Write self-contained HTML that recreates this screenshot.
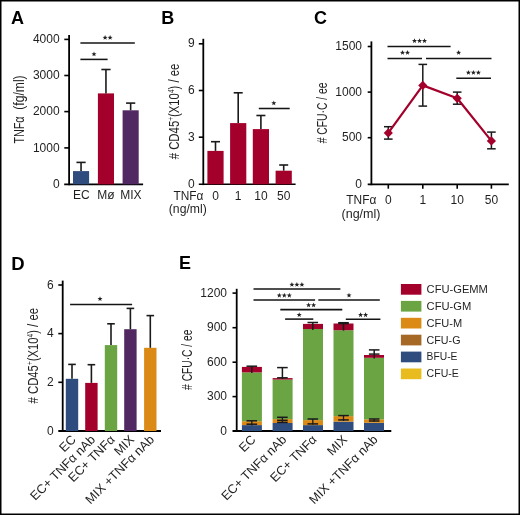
<!DOCTYPE html>
<html><head><meta charset="utf-8"><style>
html,body{margin:0;padding:0;background:#fff;}
svg{display:block;will-change:transform;}
text{font-family:"Liberation Sans",sans-serif;}
</style></head><body>
<svg width="520" height="515" viewBox="0 0 520 515">
<rect x="0" y="0" width="520" height="515" fill="#fff"/>
<text x="17.6" y="23.7" font-size="18" text-anchor="middle" fill="#000" font-weight="bold" >A</text>
<line x1="69.1" y1="35" x2="69.1" y2="185.15" stroke="#000" stroke-width="1.8" stroke-linecap="butt"/>
<line x1="64.2" y1="184.35" x2="143.1" y2="184.35" stroke="#000" stroke-width="1.6" stroke-linecap="butt"/>
<line x1="64.3" y1="39.4" x2="69.1" y2="39.4" stroke="#000" stroke-width="1.6" stroke-linecap="butt"/>
<line x1="64.3" y1="75.5" x2="69.1" y2="75.5" stroke="#000" stroke-width="1.6" stroke-linecap="butt"/>
<line x1="64.3" y1="111.6" x2="69.1" y2="111.6" stroke="#000" stroke-width="1.6" stroke-linecap="butt"/>
<line x1="64.3" y1="147.9" x2="69.1" y2="147.9" stroke="#000" stroke-width="1.6" stroke-linecap="butt"/>
<text x="59.6" y="43.0" font-size="12" text-anchor="end" fill="#1f1f1f" font-weight="normal" >4000</text>
<text x="59.6" y="79.1" font-size="12" text-anchor="end" fill="#1f1f1f" font-weight="normal" >3000</text>
<text x="59.6" y="115.2" font-size="12" text-anchor="end" fill="#1f1f1f" font-weight="normal" >2000</text>
<text x="59.6" y="151.5" font-size="12" text-anchor="end" fill="#1f1f1f" font-weight="normal" >1000</text>
<text x="59.6" y="187.6" font-size="12" text-anchor="end" fill="#1f1f1f" font-weight="normal" >0</text>
<rect x="73" y="171.1" width="16.1" height="13.25" fill="#2E4C7E"/>
<line x1="81.05" y1="171.1" x2="81.05" y2="162.4" stroke="#1a1a1a" stroke-width="1.6" stroke-linecap="butt"/>
<line x1="76.45" y1="162.4" x2="85.65" y2="162.4" stroke="#1a1a1a" stroke-width="1.6" stroke-linecap="butt"/>
<rect x="97.9" y="93.4" width="16.1" height="90.95" fill="#A3002B"/>
<line x1="105.95" y1="93.4" x2="105.95" y2="69.5" stroke="#1a1a1a" stroke-width="1.6" stroke-linecap="butt"/>
<line x1="101.35" y1="69.5" x2="110.55" y2="69.5" stroke="#1a1a1a" stroke-width="1.6" stroke-linecap="butt"/>
<rect x="122.6" y="110.3" width="16.1" height="74.05" fill="#512862"/>
<line x1="130.65" y1="110.3" x2="130.65" y2="103.1" stroke="#1a1a1a" stroke-width="1.6" stroke-linecap="butt"/>
<line x1="126.05" y1="103.1" x2="135.25" y2="103.1" stroke="#1a1a1a" stroke-width="1.6" stroke-linecap="butt"/>
<line x1="80.4" y1="42.9" x2="134.8" y2="42.9" stroke="#141414" stroke-width="1.55" stroke-linecap="butt"/>
<polygon points="105.10,35.05 105.76,36.79 107.62,36.88 106.17,38.05 106.66,39.84 105.10,38.82 103.54,39.84 104.03,38.05 102.58,36.88 104.44,36.79" fill="#222"/>
<polygon points="110.10,35.05 110.76,36.79 112.62,36.88 111.17,38.05 111.66,39.84 110.10,38.82 108.54,39.84 109.03,38.05 107.58,36.88 109.44,36.79" fill="#222"/>
<line x1="80.4" y1="59.4" x2="107.6" y2="59.4" stroke="#141414" stroke-width="1.55" stroke-linecap="butt"/>
<polygon points="94.00,51.55 94.66,53.29 96.52,53.38 95.07,54.55 95.56,56.34 94.00,55.32 92.44,56.34 92.93,54.55 91.48,53.38 93.34,53.29" fill="#222"/>
<text x="81.4" y="199.2" font-size="12" text-anchor="middle" fill="#1f1f1f" font-weight="normal" >EC</text>
<text x="106" y="199.2" font-size="12" text-anchor="middle" fill="#1f1f1f" font-weight="normal" >Mø</text>
<text x="130.9" y="199.2" font-size="12" text-anchor="middle" fill="#1f1f1f" font-weight="normal" >MIX</text>
<text transform="translate(23.9,143.6) rotate(-90)" x="0" y="0" font-size="15" text-anchor="start" fill="#1f1f1f" textLength="27.2" lengthAdjust="spacingAndGlyphs">TNFα</text>
<text transform="translate(23.9,109.7) rotate(-90)" x="0" y="0" font-size="15" text-anchor="start" fill="#1f1f1f" textLength="34.3" lengthAdjust="spacingAndGlyphs">(fg/ml)</text>
<text x="167.7" y="23.7" font-size="18" text-anchor="middle" fill="#000" font-weight="bold" >B</text>
<line x1="203.3" y1="38.8" x2="203.3" y2="185.1" stroke="#000" stroke-width="1.8" stroke-linecap="butt"/>
<line x1="198.8" y1="184.3" x2="295.6" y2="184.3" stroke="#000" stroke-width="1.6" stroke-linecap="butt"/>
<line x1="198.8" y1="43.8" x2="203.3" y2="43.8" stroke="#000" stroke-width="1.6" stroke-linecap="butt"/>
<line x1="198.8" y1="90.5" x2="203.3" y2="90.5" stroke="#000" stroke-width="1.6" stroke-linecap="butt"/>
<line x1="198.8" y1="137.2" x2="203.3" y2="137.2" stroke="#000" stroke-width="1.6" stroke-linecap="butt"/>
<text x="194.6" y="47.4" font-size="12" text-anchor="end" fill="#1f1f1f" font-weight="normal" >9</text>
<text x="194.6" y="94.1" font-size="12" text-anchor="end" fill="#1f1f1f" font-weight="normal" >6</text>
<text x="194.6" y="140.8" font-size="12" text-anchor="end" fill="#1f1f1f" font-weight="normal" >3</text>
<text x="194.6" y="187.6" font-size="12" text-anchor="end" fill="#1f1f1f" font-weight="normal" >0</text>
<rect x="207.4" y="150.9" width="16.2" height="33.4" fill="#A3002B"/>
<line x1="215.5" y1="150.9" x2="215.5" y2="141.7" stroke="#1a1a1a" stroke-width="1.6" stroke-linecap="butt"/>
<line x1="211.0" y1="141.7" x2="220.0" y2="141.7" stroke="#1a1a1a" stroke-width="1.6" stroke-linecap="butt"/>
<rect x="230.1" y="123.1" width="16.2" height="61.2" fill="#A3002B"/>
<line x1="238.2" y1="123.1" x2="238.2" y2="92.8" stroke="#1a1a1a" stroke-width="1.6" stroke-linecap="butt"/>
<line x1="233.7" y1="92.8" x2="242.7" y2="92.8" stroke="#1a1a1a" stroke-width="1.6" stroke-linecap="butt"/>
<rect x="252.8" y="129.1" width="16.2" height="55.2" fill="#A3002B"/>
<line x1="260.9" y1="129.1" x2="260.9" y2="115.5" stroke="#1a1a1a" stroke-width="1.6" stroke-linecap="butt"/>
<line x1="256.4" y1="115.5" x2="265.4" y2="115.5" stroke="#1a1a1a" stroke-width="1.6" stroke-linecap="butt"/>
<rect x="275.6" y="170.7" width="16.2" height="13.6" fill="#A3002B"/>
<line x1="283.7" y1="170.7" x2="283.7" y2="165" stroke="#1a1a1a" stroke-width="1.6" stroke-linecap="butt"/>
<line x1="279.2" y1="165" x2="288.2" y2="165" stroke="#1a1a1a" stroke-width="1.6" stroke-linecap="butt"/>
<line x1="258.8" y1="108.5" x2="289.7" y2="108.5" stroke="#141414" stroke-width="1.55" stroke-linecap="butt"/>
<polygon points="273.80,100.45 274.46,102.19 276.32,102.28 274.87,103.45 275.36,105.24 273.80,104.22 272.24,105.24 272.73,103.45 271.28,102.28 273.14,102.19" fill="#222"/>
<text x="173.5" y="199.7" font-size="12" text-anchor="start" fill="#1f1f1f" font-weight="normal" textLength="30" lengthAdjust="spacingAndGlyphs" >TNFα</text>
<text x="215.5" y="199.7" font-size="12" text-anchor="middle" fill="#1f1f1f" font-weight="normal" >0</text>
<text x="238.2" y="199.7" font-size="12" text-anchor="middle" fill="#1f1f1f" font-weight="normal" >1</text>
<text x="260.9" y="199.7" font-size="12" text-anchor="middle" fill="#1f1f1f" font-weight="normal" >10</text>
<text x="283.7" y="199.7" font-size="12" text-anchor="middle" fill="#1f1f1f" font-weight="normal" >50</text>
<text x="168.8" y="213.2" font-size="12" text-anchor="start" fill="#1f1f1f" font-weight="normal" textLength="38" lengthAdjust="spacingAndGlyphs" >(ng/ml)</text>
<text transform="translate(179.1,111.45) rotate(-90)" x="0" y="0" font-size="15" text-anchor="middle" fill="#1f1f1f" textLength="95.7" lengthAdjust="spacingAndGlyphs"># CD45<tspan font-size="8.5" dy="-5.2">+</tspan><tspan dy="5.2">(X10</tspan><tspan font-size="8.5" dy="-5.2">4</tspan><tspan dy="5.2">) / ee</tspan></text>
<text x="320.4" y="24.3" font-size="18" text-anchor="middle" fill="#000" font-weight="bold" >C</text>
<line x1="371.4" y1="41.4" x2="371.4" y2="185.2" stroke="#000" stroke-width="1.8" stroke-linecap="butt"/>
<line x1="367.7" y1="184.4" x2="508.8" y2="184.4" stroke="#000" stroke-width="1.6" stroke-linecap="butt"/>
<line x1="367.7" y1="46.5" x2="371.4" y2="46.5" stroke="#000" stroke-width="1.6" stroke-linecap="butt"/>
<line x1="367.7" y1="92.1" x2="371.4" y2="92.1" stroke="#000" stroke-width="1.6" stroke-linecap="butt"/>
<line x1="367.7" y1="137.7" x2="371.4" y2="137.7" stroke="#000" stroke-width="1.6" stroke-linecap="butt"/>
<text x="362" y="50.1" font-size="12" text-anchor="end" fill="#1f1f1f" font-weight="normal" >1500</text>
<text x="362" y="95.7" font-size="12" text-anchor="end" fill="#1f1f1f" font-weight="normal" >1000</text>
<text x="362" y="141.3" font-size="12" text-anchor="end" fill="#1f1f1f" font-weight="normal" >500</text>
<text x="362" y="187.6" font-size="12" text-anchor="end" fill="#1f1f1f" font-weight="normal" >0</text>
<line x1="388.3" y1="184.4" x2="388.3" y2="188.7" stroke="#000" stroke-width="1.6" stroke-linecap="butt"/>
<line x1="422.8" y1="184.4" x2="422.8" y2="188.7" stroke="#000" stroke-width="1.6" stroke-linecap="butt"/>
<line x1="457.2" y1="184.4" x2="457.2" y2="188.7" stroke="#000" stroke-width="1.6" stroke-linecap="butt"/>
<line x1="491.4" y1="184.4" x2="491.4" y2="188.7" stroke="#000" stroke-width="1.6" stroke-linecap="butt"/>
<line x1="388.3" y1="126.7" x2="388.3" y2="139.1" stroke="#1a1a1a" stroke-width="1.5" stroke-linecap="butt"/>
<line x1="384.0" y1="126.7" x2="392.6" y2="126.7" stroke="#1a1a1a" stroke-width="1.5" stroke-linecap="butt"/>
<line x1="384.0" y1="139.1" x2="392.6" y2="139.1" stroke="#1a1a1a" stroke-width="1.5" stroke-linecap="butt"/>
<line x1="422.8" y1="64.4" x2="422.8" y2="106.1" stroke="#1a1a1a" stroke-width="1.5" stroke-linecap="butt"/>
<line x1="418.5" y1="64.4" x2="427.1" y2="64.4" stroke="#1a1a1a" stroke-width="1.5" stroke-linecap="butt"/>
<line x1="418.5" y1="106.1" x2="427.1" y2="106.1" stroke="#1a1a1a" stroke-width="1.5" stroke-linecap="butt"/>
<line x1="457.2" y1="92.1" x2="457.2" y2="104.2" stroke="#1a1a1a" stroke-width="1.5" stroke-linecap="butt"/>
<line x1="452.9" y1="92.1" x2="461.5" y2="92.1" stroke="#1a1a1a" stroke-width="1.5" stroke-linecap="butt"/>
<line x1="452.9" y1="104.2" x2="461.5" y2="104.2" stroke="#1a1a1a" stroke-width="1.5" stroke-linecap="butt"/>
<line x1="491.4" y1="132.1" x2="491.4" y2="148.8" stroke="#1a1a1a" stroke-width="1.5" stroke-linecap="butt"/>
<line x1="487.1" y1="132.1" x2="495.7" y2="132.1" stroke="#1a1a1a" stroke-width="1.5" stroke-linecap="butt"/>
<line x1="487.1" y1="148.8" x2="495.7" y2="148.8" stroke="#1a1a1a" stroke-width="1.5" stroke-linecap="butt"/>
<polyline points="388.3,132.9 422.8,85.4 457.2,98.3 491.4,140.9" fill="none" stroke="#A3002B" stroke-width="2.2" stroke-linejoin="round"/>
<polygon points="388.3,128.3 392.9,132.9 388.3,137.5 383.7,132.9" fill="#A3002B"/>
<polygon points="422.8,80.8 427.4,85.4 422.8,90.0 418.2,85.4" fill="#A3002B"/>
<polygon points="457.2,93.7 461.8,98.3 457.2,102.9 452.6,98.3" fill="#A3002B"/>
<polygon points="491.4,136.3 496.0,140.9 491.4,145.5 486.8,140.9" fill="#A3002B"/>
<line x1="387.5" y1="46.5" x2="450.6" y2="46.5" stroke="#141414" stroke-width="1.55" stroke-linecap="butt"/>
<polygon points="414.50,38.25 415.16,39.99 417.02,40.08 415.57,41.25 416.06,43.04 414.50,42.02 412.94,43.04 413.43,41.25 411.98,40.08 413.84,39.99" fill="#222"/>
<polygon points="419.50,38.25 420.16,39.99 422.02,40.08 420.57,41.25 421.06,43.04 419.50,42.02 417.94,43.04 418.43,41.25 416.98,40.08 418.84,39.99" fill="#222"/>
<polygon points="424.50,38.25 425.16,39.99 427.02,40.08 425.57,41.25 426.06,43.04 424.50,42.02 422.94,43.04 423.43,41.25 421.98,40.08 423.84,39.99" fill="#222"/>
<line x1="387.5" y1="58.5" x2="422" y2="58.5" stroke="#141414" stroke-width="1.55" stroke-linecap="butt"/>
<polygon points="402.50,50.05 403.16,51.79 405.02,51.88 403.57,53.05 404.06,54.84 402.50,53.82 400.94,54.84 401.43,53.05 399.98,51.88 401.84,51.79" fill="#222"/>
<polygon points="407.50,50.05 408.16,51.79 410.02,51.88 408.57,53.05 409.06,54.84 407.50,53.82 405.94,54.84 406.43,53.05 404.98,51.88 406.84,51.79" fill="#222"/>
<line x1="426" y1="58.5" x2="491.5" y2="58.5" stroke="#141414" stroke-width="1.55" stroke-linecap="butt"/>
<polygon points="458.60,50.05 459.26,51.79 461.12,51.88 459.67,53.05 460.16,54.84 458.60,53.82 457.04,54.84 457.53,53.05 456.08,51.88 457.94,51.79" fill="#222"/>
<line x1="456.3" y1="78.3" x2="491" y2="78.3" stroke="#141414" stroke-width="1.55" stroke-linecap="butt"/>
<polygon points="468.40,69.95 469.06,71.69 470.92,71.78 469.47,72.95 469.96,74.74 468.40,73.72 466.84,74.74 467.33,72.95 465.88,71.78 467.74,71.69" fill="#222"/>
<polygon points="473.40,69.95 474.06,71.69 475.92,71.78 474.47,72.95 474.96,74.74 473.40,73.72 471.84,74.74 472.33,72.95 470.88,71.78 472.74,71.69" fill="#222"/>
<polygon points="478.40,69.95 479.06,71.69 480.92,71.78 479.47,72.95 479.96,74.74 478.40,73.72 476.84,74.74 477.33,72.95 475.88,71.78 477.74,71.69" fill="#222"/>
<text x="346.3" y="204.2" font-size="12" text-anchor="start" fill="#1f1f1f" font-weight="normal" textLength="30" lengthAdjust="spacingAndGlyphs" >TNFα</text>
<text x="388.3" y="204.2" font-size="12" text-anchor="middle" fill="#1f1f1f" font-weight="normal" >0</text>
<text x="422.8" y="204.2" font-size="12" text-anchor="middle" fill="#1f1f1f" font-weight="normal" >1</text>
<text x="457.2" y="204.2" font-size="12" text-anchor="middle" fill="#1f1f1f" font-weight="normal" >10</text>
<text x="491.4" y="204.2" font-size="12" text-anchor="middle" fill="#1f1f1f" font-weight="normal" >50</text>
<text x="341.5" y="218.3" font-size="12" text-anchor="start" fill="#1f1f1f" font-weight="normal" textLength="39" lengthAdjust="spacingAndGlyphs" >(ng/ml)</text>
<text transform="translate(326.8,112.9) rotate(-90)" x="0" y="0" font-size="15" text-anchor="middle" fill="#1f1f1f" textLength="60.8" lengthAdjust="spacingAndGlyphs"># CFU&#183;C / ee</text>
<text x="18" y="269.8" font-size="18.5" text-anchor="middle" fill="#000" font-weight="bold" >D</text>
<line x1="62.7" y1="280.6" x2="62.7" y2="431.8" stroke="#000" stroke-width="1.8" stroke-linecap="butt"/>
<line x1="58.3" y1="431" x2="161" y2="431" stroke="#000" stroke-width="1.9" stroke-linecap="butt"/>
<line x1="58.3" y1="285.0" x2="62.7" y2="285.0" stroke="#000" stroke-width="1.6" stroke-linecap="butt"/>
<line x1="58.3" y1="333.6" x2="62.7" y2="333.6" stroke="#000" stroke-width="1.6" stroke-linecap="butt"/>
<line x1="58.3" y1="382.3" x2="62.7" y2="382.3" stroke="#000" stroke-width="1.6" stroke-linecap="butt"/>
<text x="53.6" y="288.6" font-size="12" text-anchor="end" fill="#1f1f1f" font-weight="normal" >6</text>
<text x="53.6" y="337.2" font-size="12" text-anchor="end" fill="#1f1f1f" font-weight="normal" >4</text>
<text x="53.6" y="385.9" font-size="12" text-anchor="end" fill="#1f1f1f" font-weight="normal" >2</text>
<text x="53.6" y="434.6" font-size="12" text-anchor="end" fill="#1f1f1f" font-weight="normal" >0</text>
<rect x="65.8" y="378.8" width="12.4" height="52.2" fill="#2E4C7E"/>
<line x1="72.0" y1="378.8" x2="72.0" y2="364.4" stroke="#1a1a1a" stroke-width="1.6" stroke-linecap="butt"/>
<line x1="68.2" y1="364.4" x2="75.8" y2="364.4" stroke="#1a1a1a" stroke-width="1.6" stroke-linecap="butt"/>
<rect x="85.2" y="382.9" width="12.4" height="48.1" fill="#A3002B"/>
<line x1="91.4" y1="382.9" x2="91.4" y2="364.7" stroke="#1a1a1a" stroke-width="1.6" stroke-linecap="butt"/>
<line x1="87.6" y1="364.7" x2="95.2" y2="364.7" stroke="#1a1a1a" stroke-width="1.6" stroke-linecap="butt"/>
<rect x="104.8" y="345.1" width="12.4" height="85.9" fill="#6AA443"/>
<line x1="111.0" y1="345.1" x2="111.0" y2="323.8" stroke="#1a1a1a" stroke-width="1.6" stroke-linecap="butt"/>
<line x1="107.2" y1="323.8" x2="114.8" y2="323.8" stroke="#1a1a1a" stroke-width="1.6" stroke-linecap="butt"/>
<rect x="124.2" y="329.2" width="12.4" height="101.8" fill="#512862"/>
<line x1="130.4" y1="329.2" x2="130.4" y2="308.4" stroke="#1a1a1a" stroke-width="1.6" stroke-linecap="butt"/>
<line x1="126.6" y1="308.4" x2="134.2" y2="308.4" stroke="#1a1a1a" stroke-width="1.6" stroke-linecap="butt"/>
<rect x="144.1" y="347.8" width="12.4" height="83.2" fill="#DB8A16"/>
<line x1="150.3" y1="347.8" x2="150.3" y2="315.6" stroke="#1a1a1a" stroke-width="1.6" stroke-linecap="butt"/>
<line x1="146.5" y1="315.6" x2="154.1" y2="315.6" stroke="#1a1a1a" stroke-width="1.6" stroke-linecap="butt"/>
<line x1="70.1" y1="304.4" x2="132.1" y2="304.4" stroke="#141414" stroke-width="1.55" stroke-linecap="butt"/>
<polygon points="100.00,296.25 100.66,297.99 102.52,298.08 101.07,299.25 101.56,301.04 100.00,300.02 98.44,301.04 98.93,299.25 97.48,298.08 99.34,297.99" fill="#222"/>
<text transform="translate(76.6,440.4) rotate(-45)" x="0" y="0" font-size="12.6" text-anchor="end" fill="#1f1f1f">EC</text>
<text transform="translate(96.0,440.4) rotate(-45)" x="0" y="0" font-size="12.6" text-anchor="end" fill="#1f1f1f">EC+ TNFα nAb</text>
<text transform="translate(115.6,440.4) rotate(-45)" x="0" y="0" font-size="12.6" text-anchor="end" fill="#1f1f1f">EC+ TNFα</text>
<text transform="translate(135.0,440.4) rotate(-45)" x="0" y="0" font-size="12.6" text-anchor="end" fill="#1f1f1f">MIX</text>
<text transform="translate(154.9,440.4) rotate(-45)" x="0" y="0" font-size="12.6" text-anchor="end" fill="#1f1f1f">MIX +TNFα nAb</text>
<text transform="translate(38.4,355.75) rotate(-90)" x="0" y="0" font-size="15" text-anchor="middle" fill="#1f1f1f" textLength="95.5" lengthAdjust="spacingAndGlyphs"># CD45<tspan font-size="8.5" dy="-5.2">+</tspan><tspan dy="5.2">(X10</tspan><tspan font-size="8.5" dy="-5.2">4</tspan><tspan dy="5.2">) / ee</tspan></text>
<text x="185" y="269" font-size="18" text-anchor="middle" fill="#000" font-weight="bold" >E</text>
<line x1="236.7" y1="288.8" x2="236.7" y2="431.8" stroke="#000" stroke-width="1.8" stroke-linecap="butt"/>
<line x1="232.5" y1="431" x2="391.3" y2="431" stroke="#000" stroke-width="1.9" stroke-linecap="butt"/>
<line x1="232.5" y1="293.1" x2="236.7" y2="293.1" stroke="#000" stroke-width="1.6" stroke-linecap="butt"/>
<line x1="232.5" y1="327.7" x2="236.7" y2="327.7" stroke="#000" stroke-width="1.6" stroke-linecap="butt"/>
<line x1="232.5" y1="362.2" x2="236.7" y2="362.2" stroke="#000" stroke-width="1.6" stroke-linecap="butt"/>
<line x1="232.5" y1="396.6" x2="236.7" y2="396.6" stroke="#000" stroke-width="1.6" stroke-linecap="butt"/>
<text x="227" y="296.7" font-size="12" text-anchor="end" fill="#1f1f1f" font-weight="normal" >1200</text>
<text x="227" y="331.3" font-size="12" text-anchor="end" fill="#1f1f1f" font-weight="normal" >900</text>
<text x="227" y="365.8" font-size="12" text-anchor="end" fill="#1f1f1f" font-weight="normal" >600</text>
<text x="227" y="400.2" font-size="12" text-anchor="end" fill="#1f1f1f" font-weight="normal" >300</text>
<text x="227" y="434.6" font-size="12" text-anchor="end" fill="#1f1f1f" font-weight="normal" >0</text>
<rect x="241.9" y="425.1" width="20" height="5.9" fill="#2E4C7E"/>
<rect x="241.9" y="421.2" width="20" height="3.9" fill="#DB8A16"/>
<rect x="241.9" y="372.4" width="20" height="48.8" fill="#6AA443"/>
<rect x="241.9" y="366.9" width="20" height="5.5" fill="#A3002B"/>
<rect x="272.6" y="423" width="20" height="8" fill="#2E4C7E"/>
<rect x="272.6" y="419.1" width="20" height="3.9" fill="#DB8A16"/>
<rect x="272.6" y="379.6" width="20" height="39.5" fill="#6AA443"/>
<rect x="272.6" y="378.1" width="20" height="1.5" fill="#A3002B"/>
<rect x="303" y="425.1" width="20" height="5.9" fill="#2E4C7E"/>
<rect x="303" y="420.1" width="20" height="5.0" fill="#DB8A16"/>
<rect x="303" y="329" width="20" height="91.1" fill="#6AA443"/>
<rect x="303" y="323.9" width="20" height="5.1" fill="#A3002B"/>
<rect x="333.5" y="421.6" width="20" height="9.4" fill="#2E4C7E"/>
<rect x="333.5" y="416.1" width="20" height="5.5" fill="#DB8A16"/>
<rect x="333.5" y="330.2" width="20" height="85.9" fill="#6AA443"/>
<rect x="333.5" y="323.5" width="20" height="6.7" fill="#A3002B"/>
<rect x="364" y="422.8" width="20" height="8.2" fill="#2E4C7E"/>
<rect x="364" y="419.3" width="20" height="3.5" fill="#DB8A16"/>
<rect x="364" y="357.8" width="20" height="61.5" fill="#6AA443"/>
<rect x="364" y="355" width="20" height="2.8" fill="#A3002B"/>
<line x1="251.8" y1="366.2" x2="251.8" y2="373" stroke="#1a1a1a" stroke-width="1.5" stroke-linecap="butt"/>
<line x1="246.5" y1="366.2" x2="257.1" y2="366.2" stroke="#1a1a1a" stroke-width="1.5" stroke-linecap="butt"/>
<line x1="246.5" y1="420.8" x2="257.1" y2="420.8" stroke="#1a1a1a" stroke-width="1.5" stroke-linecap="butt"/>
<line x1="246.5" y1="424.2" x2="257.1" y2="424.2" stroke="#1a1a1a" stroke-width="1.5" stroke-linecap="butt"/>
<line x1="251.8" y1="420.8" x2="251.8" y2="425.5" stroke="#1a1a1a" stroke-width="1.3" stroke-linecap="butt"/>
<line x1="282.4" y1="367.6" x2="282.4" y2="379" stroke="#1a1a1a" stroke-width="1.5" stroke-linecap="butt"/>
<line x1="277.1" y1="367.6" x2="287.7" y2="367.6" stroke="#1a1a1a" stroke-width="1.5" stroke-linecap="butt"/>
<line x1="277.1" y1="377.8" x2="287.7" y2="377.8" stroke="#1a1a1a" stroke-width="1.5" stroke-linecap="butt"/>
<line x1="277.1" y1="417.3" x2="287.7" y2="417.3" stroke="#1a1a1a" stroke-width="1.5" stroke-linecap="butt"/>
<line x1="277.1" y1="420.3" x2="287.7" y2="420.3" stroke="#1a1a1a" stroke-width="1.5" stroke-linecap="butt"/>
<line x1="277.1" y1="422.4" x2="287.7" y2="422.4" stroke="#1a1a1a" stroke-width="1.5" stroke-linecap="butt"/>
<line x1="282.4" y1="417.3" x2="282.4" y2="422.4" stroke="#1a1a1a" stroke-width="1.3" stroke-linecap="butt"/>
<line x1="312.8" y1="322.5" x2="312.8" y2="330" stroke="#1a1a1a" stroke-width="1.5" stroke-linecap="butt"/>
<line x1="307.5" y1="322.5" x2="318.1" y2="322.5" stroke="#1a1a1a" stroke-width="1.5" stroke-linecap="butt"/>
<line x1="307.5" y1="419" x2="318.1" y2="419" stroke="#1a1a1a" stroke-width="1.5" stroke-linecap="butt"/>
<line x1="307.5" y1="423.9" x2="318.1" y2="423.9" stroke="#1a1a1a" stroke-width="1.5" stroke-linecap="butt"/>
<line x1="312.8" y1="419" x2="312.8" y2="424.5" stroke="#1a1a1a" stroke-width="1.3" stroke-linecap="butt"/>
<line x1="343.5" y1="322.7" x2="343.5" y2="330.6" stroke="#1a1a1a" stroke-width="1.5" stroke-linecap="butt"/>
<line x1="338.2" y1="322.7" x2="348.8" y2="322.7" stroke="#1a1a1a" stroke-width="1.5" stroke-linecap="butt"/>
<line x1="338.2" y1="323.6" x2="348.8" y2="323.6" stroke="#1a1a1a" stroke-width="1.5" stroke-linecap="butt"/>
<line x1="338.2" y1="415.6" x2="348.8" y2="415.6" stroke="#1a1a1a" stroke-width="1.5" stroke-linecap="butt"/>
<line x1="338.2" y1="419.9" x2="348.8" y2="419.9" stroke="#1a1a1a" stroke-width="1.5" stroke-linecap="butt"/>
<line x1="343.5" y1="415.6" x2="343.5" y2="421" stroke="#1a1a1a" stroke-width="1.3" stroke-linecap="butt"/>
<line x1="374.2" y1="349.9" x2="374.2" y2="358.5" stroke="#1a1a1a" stroke-width="1.5" stroke-linecap="butt"/>
<line x1="368.9" y1="349.9" x2="379.5" y2="349.9" stroke="#1a1a1a" stroke-width="1.5" stroke-linecap="butt"/>
<line x1="368.9" y1="354.1" x2="379.5" y2="354.1" stroke="#1a1a1a" stroke-width="1.5" stroke-linecap="butt"/>
<line x1="368.9" y1="419" x2="379.5" y2="419" stroke="#1a1a1a" stroke-width="1.5" stroke-linecap="butt"/>
<line x1="368.9" y1="421" x2="379.5" y2="421" stroke="#1a1a1a" stroke-width="1.5" stroke-linecap="butt"/>
<line x1="374.2" y1="419" x2="374.2" y2="421.5" stroke="#1a1a1a" stroke-width="1.3" stroke-linecap="butt"/>
<line x1="253.5" y1="289.0" x2="340.4" y2="289.0" stroke="#141414" stroke-width="1.55" stroke-linecap="butt"/>
<polygon points="291.90,282.05 292.56,283.79 294.42,283.88 292.97,285.05 293.46,286.84 291.90,285.82 290.34,286.84 290.83,285.05 289.38,283.88 291.24,283.79" fill="#222"/>
<polygon points="296.90,282.05 297.56,283.79 299.42,283.88 297.97,285.05 298.46,286.84 296.90,285.82 295.34,286.84 295.83,285.05 294.38,283.88 296.24,283.79" fill="#222"/>
<polygon points="301.90,282.05 302.56,283.79 304.42,283.88 302.97,285.05 303.46,286.84 301.90,285.82 300.34,286.84 300.83,285.05 299.38,283.88 301.24,283.79" fill="#222"/>
<line x1="253.5" y1="300.0" x2="315.1" y2="300.0" stroke="#141414" stroke-width="1.55" stroke-linecap="butt"/>
<polygon points="279.30,292.85 279.96,294.59 281.82,294.68 280.37,295.85 280.86,297.64 279.30,296.62 277.74,297.64 278.23,295.85 276.78,294.68 278.64,294.59" fill="#222"/>
<polygon points="284.30,292.85 284.96,294.59 286.82,294.68 285.37,295.85 285.86,297.64 284.30,296.62 282.74,297.64 283.23,295.85 281.78,294.68 283.64,294.59" fill="#222"/>
<polygon points="289.30,292.85 289.96,294.59 291.82,294.68 290.37,295.85 290.86,297.64 289.30,296.62 287.74,297.64 288.23,295.85 286.78,294.68 288.64,294.59" fill="#222"/>
<line x1="318.3" y1="300.0" x2="379.8" y2="300.0" stroke="#141414" stroke-width="1.55" stroke-linecap="butt"/>
<polygon points="349.00,292.75 349.66,294.49 351.52,294.58 350.07,295.75 350.56,297.54 349.00,296.52 347.44,297.54 347.93,295.75 346.48,294.58 348.34,294.49" fill="#222"/>
<line x1="280.3" y1="309.6" x2="342.3" y2="309.6" stroke="#141414" stroke-width="1.55" stroke-linecap="butt"/>
<polygon points="308.60,302.55 309.26,304.29 311.12,304.38 309.67,305.55 310.16,307.34 308.60,306.32 307.04,307.34 307.53,305.55 306.08,304.38 307.94,304.29" fill="#222"/>
<polygon points="313.60,302.55 314.26,304.29 316.12,304.38 314.67,305.55 315.16,307.34 313.60,306.32 312.04,307.34 312.53,305.55 311.08,304.38 312.94,304.29" fill="#222"/>
<line x1="285.1" y1="319.1" x2="313.3" y2="319.1" stroke="#141414" stroke-width="1.55" stroke-linecap="butt"/>
<polygon points="299.20,312.25 299.86,313.99 301.72,314.08 300.27,315.25 300.76,317.04 299.20,316.02 297.64,317.04 298.13,315.25 296.68,314.08 298.54,313.99" fill="#222"/>
<line x1="345.8" y1="319.3" x2="380.4" y2="319.3" stroke="#141414" stroke-width="1.55" stroke-linecap="butt"/>
<polygon points="360.60,312.35 361.26,314.09 363.12,314.18 361.67,315.35 362.16,317.14 360.60,316.12 359.04,317.14 359.53,315.35 358.08,314.18 359.94,314.09" fill="#222"/>
<polygon points="365.60,312.35 366.26,314.09 368.12,314.18 366.67,315.35 367.16,317.14 365.60,316.12 364.04,317.14 364.53,315.35 363.08,314.18 364.94,314.09" fill="#222"/>
<text transform="translate(256.4,440.4) rotate(-45)" x="0" y="0" font-size="12.6" text-anchor="end" fill="#1f1f1f">EC</text>
<text transform="translate(287.1,440.4) rotate(-45)" x="0" y="0" font-size="12.6" text-anchor="end" fill="#1f1f1f">EC+ TNFα nAb</text>
<text transform="translate(317.5,440.4) rotate(-45)" x="0" y="0" font-size="12.6" text-anchor="end" fill="#1f1f1f">EC+ TNFα</text>
<text transform="translate(348.0,440.4) rotate(-45)" x="0" y="0" font-size="12.6" text-anchor="end" fill="#1f1f1f">MIX</text>
<text transform="translate(378.5,440.4) rotate(-45)" x="0" y="0" font-size="12.6" text-anchor="end" fill="#1f1f1f">MIX +TNFα nAb</text>
<text transform="translate(192.1,359.75) rotate(-90)" x="0" y="0" font-size="15" text-anchor="middle" fill="#1f1f1f" textLength="60.3" lengthAdjust="spacingAndGlyphs"># CFU&#183;C / ee</text>
<rect x="400.9" y="284.0" width="20.5" height="10.7" fill="#A3002B"/>
<text x="426.6" y="293.0" font-size="11" text-anchor="start" fill="#1f1f1f" font-weight="normal" textLength="61.3" lengthAdjust="spacingAndGlyphs" >CFU-GEMM</text>
<rect x="400.9" y="300.9" width="20.5" height="10.7" fill="#6AA443"/>
<text x="426.6" y="309.86" font-size="11" text-anchor="start" fill="#1f1f1f" font-weight="normal" textLength="44.7" lengthAdjust="spacingAndGlyphs" >CFU-GM</text>
<rect x="400.9" y="317.8" width="20.5" height="10.7" fill="#DB8A16"/>
<text x="426.6" y="326.72" font-size="11" text-anchor="start" fill="#1f1f1f" font-weight="normal" textLength="35.6" lengthAdjust="spacingAndGlyphs" >CFU-M</text>
<rect x="400.9" y="334.7" width="20.5" height="10.7" fill="#A66825"/>
<text x="426.6" y="343.58" font-size="11" text-anchor="start" fill="#1f1f1f" font-weight="normal" textLength="33.9" lengthAdjust="spacingAndGlyphs" >CFU-G</text>
<rect x="400.9" y="351.6" width="20.5" height="10.7" fill="#2E4C7E"/>
<text x="426.6" y="360.44" font-size="11" text-anchor="start" fill="#1f1f1f" font-weight="normal" textLength="30.9" lengthAdjust="spacingAndGlyphs" >BFU-E</text>
<rect x="400.9" y="368.5" width="20.5" height="10.7" fill="#E8BC1E"/>
<text x="426.6" y="377.3" font-size="11" text-anchor="start" fill="#1f1f1f" font-weight="normal" textLength="32.2" lengthAdjust="spacingAndGlyphs" >CFU-E</text>
<rect x="0.75" y="0.75" width="518.5" height="513.5" fill="none" stroke="#000" stroke-width="1.5"/>
</svg>
</body></html>
